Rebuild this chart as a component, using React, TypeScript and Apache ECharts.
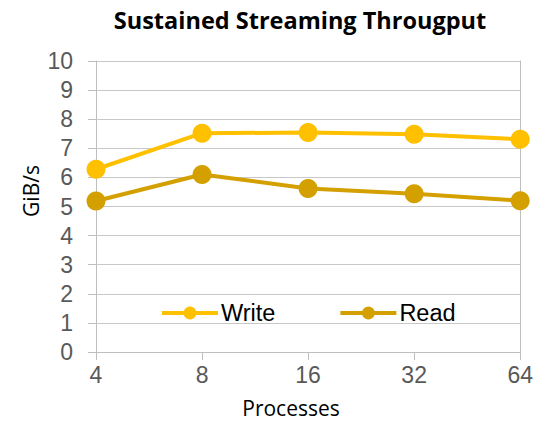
import React, { useEffect, useRef } from "react";
import * as echarts from "echarts";

const categories = ["4", "8", "16", "32", "64"];
const writeValues = [6.28, 7.52, 7.54, 7.48, 7.31];
const readValues = [5.19, 6.1, 5.62, 5.44, 5.2];
const titleText = "Sustained Streaming Througput";
const xName = "Processes";
const yName = "GiB/s";

export default function App() {
  const ref = useRef<HTMLDivElement>(null);
  useEffect(() => {
    const chart = echarts.init(ref.current!, null, { renderer: "svg" });
    const font = "Liberation Sans, Arial, sans-serif";
    const nameFont = "Open Sans, sans-serif";
    chart.setOption({
      animation: false,
      backgroundColor: "#ffffff",
      title: {
        text: titleText,
        left: 295,
        textAlign: "center",
        top: 3,
        textStyle: { fontFamily: nameFont, fontWeight: "bold", fontSize: 23.5, color: "#000" },
      },
      legend: {
        left: 155,
        top: 296,
        itemWidth: 56,
        itemHeight: 16,
        itemGap: 63,
        lineStyle: { width: 4 },
        textStyle: { fontFamily: font, fontSize: 23.5, color: "#000", padding: [0, 0, 0, -2] },
        data: ["Write", "Read"],
      },
      graphic: [
        {
          type: "text",
          x: 291,
          y: 408,
          style: { text: xName, fontFamily: nameFont, fontSize: 21, fill: "#000", align: "center", verticalAlign: "middle" },
        },
        {
          type: "text",
          x: 31,
          y: 191,
          rotation: Math.PI / 2,
          style: { text: yName, fontFamily: nameFont, fontSize: 21, fill: "#000", align: "center", verticalAlign: "middle" },
        },
      ],
      grid: { left: 96, right: 12, top: 61, bottom: 69, containLabel: false },
      xAxis: {
        type: "category",
        data: categories,
        boundaryGap: false,
        axisLine: { lineStyle: { color: "#BFBFBF", width: 1 } },
        axisTick: { show: true, length: 8, lineStyle: { color: "#BFBFBF" } },
        axisLabel: { fontFamily: font, fontSize: 23, color: "#595959", margin: 11 },
        splitLine: { show: false },
      },
      yAxis: [
        {
          type: "value",
          min: 0,
          max: 10,
          interval: 1,
          axisLine: { show: true, lineStyle: { color: "#BFBFBF", width: 1 } },
          axisTick: { show: true, length: 8, lineStyle: { color: "#BFBFBF" } },
          axisLabel: { fontFamily: font, fontSize: 23, color: "#595959", margin: 23 },
          splitLine: { show: true, lineStyle: { color: "#C8C8C8", width: 1 } },
        },
        {
          type: "value",
          min: 0,
          max: 10,
          interval: 1,
          position: "right",
          axisLine: { show: true, lineStyle: { color: "#BFBFBF", width: 1 } },
          axisTick: { show: false },
          axisLabel: { show: false },
          splitLine: { show: false },
        },
      ],
      series: [
        {
          name: "Write",
          type: "line",
          data: writeValues,
          symbol: "circle",
          symbolSize: 19,
          itemStyle: { color: "#FFC000" },
          lineStyle: { color: "#FFC000", width: 4 },
        },
        {
          name: "Read",
          type: "line",
          data: readValues,
          symbol: "circle",
          symbolSize: 19,
          itemStyle: { color: "#D4A000" },
          lineStyle: { color: "#D4A000", width: 4 },
        },
      ],
    });
    return () => chart.dispose();
  }, []);
  return <div ref={ref} style={{ width: 536, height: 421, position: "absolute", left: 0, top: 0 }} />;
}
